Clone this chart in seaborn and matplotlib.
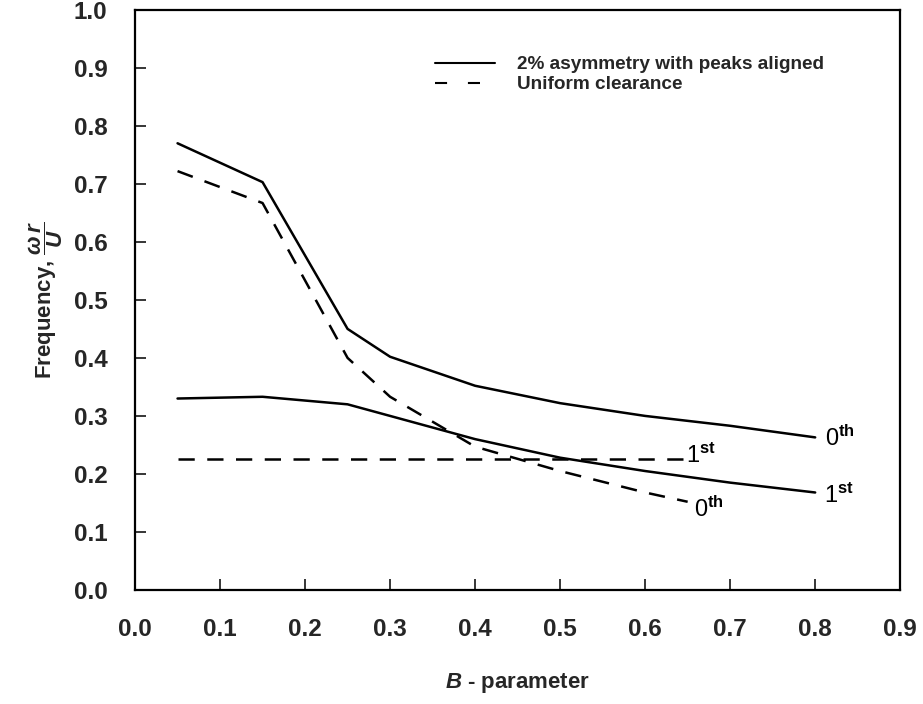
import matplotlib
matplotlib.use("Agg")
import matplotlib.pyplot as plt
import seaborn as sns
import pandas as pd
from matplotlib.lines import Line2D

sns.set_theme(style="ticks")
plt.rcParams["font.family"] = ["Liberation Sans", "DejaVu Sans"]
plt.rcParams["mathtext.fontset"] = "custom"
plt.rcParams["mathtext.it"] = "Liberation Sans:italic:bold"
plt.rcParams["mathtext.rm"] = "Liberation Sans:bold"
plt.rcParams["mathtext.bf"] = "Liberation Sans:bold"

# B-parameter values and frequencies (omega r / U)
b_asym = [0.05, 0.15, 0.25, 0.30, 0.40, 0.50, 0.60, 0.70, 0.80]
asym_0th = [0.770, 0.703, 0.450, 0.402, 0.352, 0.322, 0.300, 0.283, 0.263]
asym_1st = [0.330, 0.333, 0.320, 0.300, 0.260, 0.228, 0.205, 0.185, 0.168]

b_unif_0th = [0.05, 0.15, 0.25, 0.30, 0.40, 0.50, 0.60, 0.65]
unif_0th = [0.722, 0.667, 0.400, 0.333, 0.247, 0.205, 0.168, 0.152]
b_unif_1st = [0.05, 0.65]
unif_1st = [0.225, 0.225]

cases = ["2% asymmetry with peaks aligned", "Uniform clearance"]

frames = [
    pd.DataFrame({"B": b_asym, "freq": asym_0th, "case": cases[0], "mode": "0th"}),
    pd.DataFrame({"B": b_asym, "freq": asym_1st, "case": cases[0], "mode": "1st"}),
    pd.DataFrame({"B": b_unif_0th, "freq": unif_0th, "case": cases[1], "mode": "0th"}),
    pd.DataFrame({"B": b_unif_1st, "freq": unif_1st, "case": cases[1], "mode": "1st"}),
]
df = pd.concat(frames, ignore_index=True)

fig = plt.figure(figsize=(9.23, 7.04), dpi=100)
ax = fig.add_axes([0.1463, 0.162, 0.829, 0.824])

sns.lineplot(
    data=df, x="B", y="freq", style="case", units="mode", estimator=None,
    style_order=cases, dashes={cases[0]: "", cases[1]: (6.5, 5)},
    color="black", linewidth=1.8, legend=False, ax=ax, sort=False,
)

ax.set_xlim(0, 0.9)
ax.set_ylim(0, 1.0)
ax.set_xticks([i / 10 for i in range(10)])
ax.set_yticks([i / 10 for i in range(11)])
ax.set_xticklabels([f"{i / 10:.1f}" for i in range(10)])
ax.set_yticklabels([f"{i / 10:.1f}" for i in range(11)])
ax.tick_params(direction="in", length=8, width=1.3, labelsize=17.5)
ax.tick_params(axis="x", pad=20)
ax.tick_params(axis="y", pad=20)
for lab in ax.get_xticklabels() + ax.get_yticklabels():
    lab.set_fontweight("bold")
for sp in ax.spines.values():
    sp.set_linewidth(1.6)
    sp.set_color("black")

ax.set_xlabel(r"$B$ - parameter", fontsize=16, fontweight="bold", labelpad=22)
ax.set_ylabel(r"Frequency, $\dfrac{\omega\, r}{U}$", fontsize=16,
              fontweight="bold", labelpad=6)

# Mode labels at line ends
txt_kw = dict(fontsize=17, color="black", va="center", ha="left")
ax.text(0.812, 0.262, r"0$^{\mathbf{th}}$", **txt_kw)
ax.text(0.810, 0.163, r"1$^{\mathbf{st}}$", **txt_kw)
ax.text(0.648, 0.232, r"1$^{\mathbf{st}}$", **txt_kw)
ax.text(0.658, 0.140, r"0$^{\mathbf{th}}$", **txt_kw)

handles = [
    Line2D([], [], color="black", linewidth=1.5),
    Line2D([], [], color="black", linewidth=1.5, dashes=(5.8, 10)),
]
ax.legend(handles, cases, loc="upper left", bbox_to_anchor=(0.37, 0.95),
          frameon=False, handlelength=3.15, handletextpad=1.15,
          labelspacing=0.15, prop={"size": 13.7, "weight": "bold"})

fig.savefig("out.png", dpi=100)
